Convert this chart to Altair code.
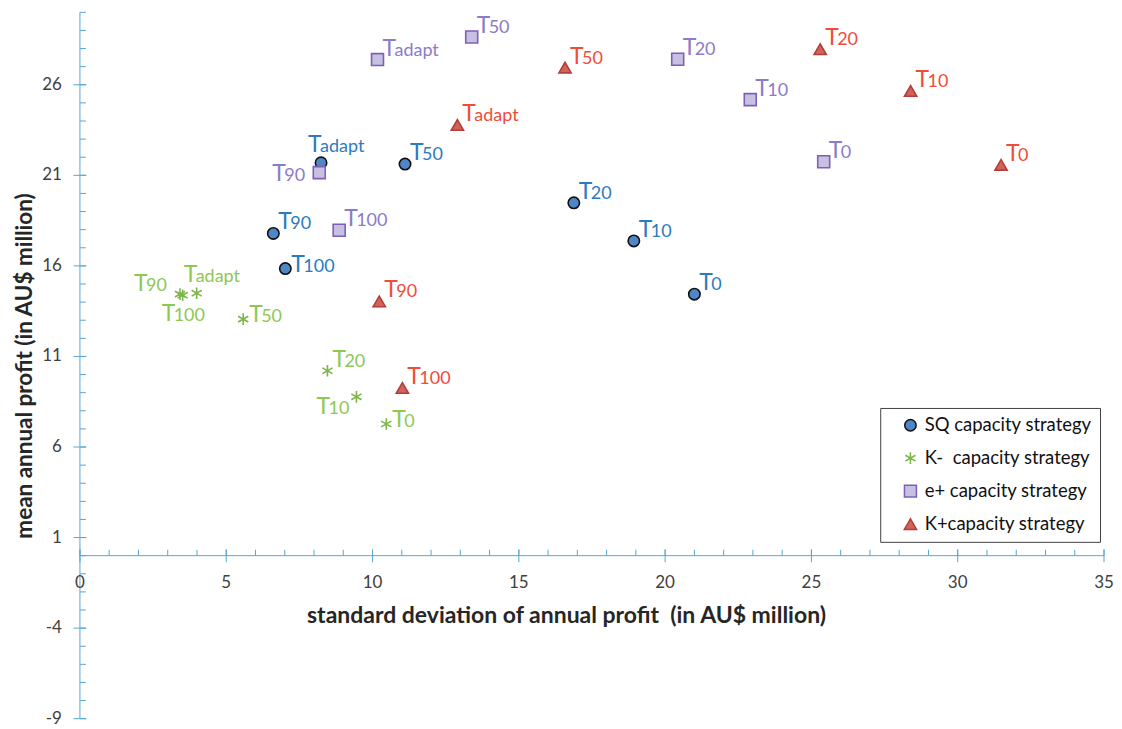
import altair as alt
import pandas as pd

# ---------------- data ----------------
strategies = ["SQ capacity strategy", "K-\u00a0 capacity strategy",
              "e+ capacity strategy", "K+capacity strategy"]

sq_label = ["Tadapt", "T50", "T90", "T100", "T20", "T10", "T0"]
sq_sd    = [8.24, 11.11, 6.61, 7.02, 16.88, 18.93, 21.00]
sq_mean  = [21.69, 21.62, 17.79, 15.85, 19.48, 17.38, 14.44]
sq_place = ["up", "ur", "ur", "r", "ur", "ur", "ur"]

km_label = ["T90", "T100", "Tadapt", "T50", "T20", "T10", "T0"]
km_sd    = [3.42, 3.51, 3.99, 5.58, 8.46, 9.45, 10.47]
km_mean  = [14.44, 14.38, 14.49, 13.06, 10.21, 8.77, 7.27]
km_place = ["ul", "d", "up", "r", "ur", "dl", "r"]

ep_label = ["Tadapt", "T50", "T20", "T90", "T100", "T10", "T0"]
ep_sd    = [10.17, 13.39, 20.43, 8.18, 8.86, 22.91, 25.42]
ep_mean  = [27.39, 28.64, 27.41, 21.15, 17.97, 25.18, 21.75]
ep_place = ["ur", "ur", "ur", "l", "ur", "ur", "ur"]

kp_label = ["Tadapt", "T50", "T90", "T100", "T20", "T10", "T0"]
kp_sd    = [12.90, 16.58, 10.23, 11.02, 25.30, 28.39, 31.48]
kp_mean  = [23.78, 26.95, 14.04, 9.26, 27.96, 25.66, 21.58]
kp_place = ["ur", "ur", "ur", "ur", "ur", "ur", "ur"]

x_major = [0, 5, 10, 15, 20, 25, 30, 35]
x_tick_labels = ["0", "5", "10", "15", "20", "25", "30", "35"]
x_minor = list(range(0, 36))
y_major = [-9, -4, 1, 6, 11, 16, 21, 26]
y_tick_labels = ["-9", "-4", "1", "6", "11", "16", "21", "26"]
y_minor = list(range(-9, 31))

x_title = "standard deviation of annual profit\u00a0 (in AU$ million)"
y_title = "mean annual profit (in AU$ million)"

# ---------------- table ----------------
rows = []
for strat, labs, sds, means, places in [
    (strategies[0], sq_label, sq_sd, sq_mean, sq_place),
    (strategies[1], km_label, km_sd, km_mean, km_place),
    (strategies[2], ep_label, ep_sd, ep_mean, ep_place),
    (strategies[3], kp_label, kp_sd, kp_mean, kp_place),
]:
    for lab, sd, mn, pl in zip(labs, sds, means, places):
        rows.append({"strategy": strat, "head": lab[0], "tail": lab[1:],
                     "sd": sd, "mean": mn, "place": pl})
df = pd.DataFrame(rows)

# ---------------- styles ----------------
FONT = "Lato"
X_DOM = [0, 35]
Y_DOM = [-9, 30]
W, H = 1025, 707
AXIS_COLOR = "#5aa6cf"
LABEL_COLOR = "#404040"
TITLE_COLOR = "#262626"
xs = alt.Scale(domain=X_DOM, nice=False, zero=False)
ys = alt.Scale(domain=Y_DOM, nice=False, zero=False)

shapes = ["circle",
          "M0,-1L0,1M-0.87,-0.5L0.87,0.5M-0.87,0.5L0.87,-0.5",
          "square", "triangle-up"]
sizes = [130, 150, 135, 160]
fills = ["#4f86c6", "#7cb648", "#c7c0e0", "#d2625c"]
strokes = ["#111111", "#7cb648", "#7d5fb8", "#b23f38"]
text_colors = ["#2b7bbf", "#8dc855", "#8a7cc8", "#f04c3a"]

# label placement offsets: (dx of "T" start, dy of baseline) in px
offsets = {
    "ur": (5, -4),
    "r": (6, 3),
    "up": (-13, -11),
    "l": (-47, 8),
    "ul": (-46, -3),
    "dl": (-40, 17),
    "d": (-21, 26),
}
TAIL_SHIFT = 12

legend = alt.Legend(
    title=None, orient="none", legendX=801, legendY=396,
    fillColor="white", strokeColor="#404040", padding=8,
    symbolOffset=13, labelOffset=5, rowPadding=14,
    labelFont=FONT, labelFontSize=18.5, labelColor="#111111",
    symbolStrokeWidth=1.5, labelLimit=400,
)

# ---------------- markers ----------------
points = alt.Chart(df).mark_point(filled=True, opacity=1, strokeWidth=1.6).encode(
    x=alt.X("sd:Q", scale=xs, axis=None),
    y=alt.Y("mean:Q", scale=ys, axis=None),
    shape=alt.Shape("strategy:N", scale=alt.Scale(domain=strategies, range=shapes), legend=legend),
    fill=alt.Fill("strategy:N", scale=alt.Scale(domain=strategies, range=fills), legend=legend),
    stroke=alt.Stroke("strategy:N", scale=alt.Scale(domain=strategies, range=strokes), legend=legend),
    size=alt.Size("strategy:N", scale=alt.Scale(domain=strategies, range=sizes), legend=legend),
)

# ---------------- axes (drawn from the tick lists) ----------------
xline = pd.DataFrame({"a": [X_DOM[0]], "b": [X_DOM[1]], "at": [0]})
yline = pd.DataFrame({"a": [Y_DOM[0]], "b": [Y_DOM[1]], "at": [0]})
x_domain = alt.Chart(xline).mark_rule(color=AXIS_COLOR, strokeWidth=1).encode(
    x=alt.X("a:Q", scale=xs, axis=None), x2="b:Q", y=alt.Y("at:Q", scale=ys, axis=None))
y_domain = alt.Chart(yline).mark_rule(color=AXIS_COLOR, strokeWidth=1).encode(
    y=alt.Y("a:Q", scale=ys, axis=None), y2="b:Q", x=alt.X("at:Q", scale=xs, axis=None))

xt = pd.DataFrame({"v": x_minor, "zero": [0] * len(x_minor)})
xt_major = pd.DataFrame({"v": x_major, "lab": x_tick_labels, "zero": [0] * len(x_major)})
yt = pd.DataFrame({"v": y_minor, "zero": [0] * len(y_minor)})
yt_major = pd.DataFrame({"v": y_major, "lab": y_tick_labels, "zero": [0] * len(y_major)})

x_minor_ticks = alt.Chart(xt).mark_tick(
    orient="vertical", size=6, thickness=1, color=AXIS_COLOR, yOffset=-3, opacity=1
).encode(x=alt.X("v:Q", scale=xs, axis=None), y=alt.Y("zero:Q", scale=ys, axis=None))
x_major_ticks = alt.Chart(xt_major).mark_tick(
    orient="vertical", size=13, thickness=1, color=AXIS_COLOR, opacity=1
).encode(x=alt.X("v:Q", scale=xs, axis=None), y=alt.Y("zero:Q", scale=ys, axis=None))
y_minor_ticks = alt.Chart(yt).mark_tick(
    orient="horizontal", size=6, thickness=1, color=AXIS_COLOR, xOffset=3, opacity=1
).encode(y=alt.Y("v:Q", scale=ys, axis=None), x=alt.X("zero:Q", scale=xs, axis=None))
y_major_ticks = alt.Chart(yt_major).mark_tick(
    orient="horizontal", size=13, thickness=1, color=AXIS_COLOR, opacity=1
).encode(y=alt.Y("v:Q", scale=ys, axis=None), x=alt.X("zero:Q", scale=xs, axis=None))

x_labels = alt.Chart(xt_major).mark_text(
    align="center", baseline="middle", dy=27, font=FONT, fontSize=17, color=LABEL_COLOR
).encode(x=alt.X("v:Q", scale=xs, axis=None), y=alt.Y("zero:Q", scale=ys, axis=None),
         text="lab:N")
y_labels = alt.Chart(yt_major).mark_text(
    align="right", baseline="middle", dx=-18, font=FONT, fontSize=17, color=LABEL_COLOR
).encode(y=alt.Y("v:Q", scale=ys, axis=None), x=alt.X("zero:Q", scale=xs, axis=None),
         text="lab:N")

x_title_mark = alt.Chart(pd.DataFrame({"t": [x_title]})).mark_text(
    align="center", baseline="middle", font=FONT, fontSize=23, fontWeight="bold",
    color=TITLE_COLOR
).encode(x=alt.value(487), y=alt.value(604), text="t:N")
y_title_mark = alt.Chart(pd.DataFrame({"t": [y_title]})).mark_text(
    align="center", baseline="middle", angle=270, font=FONT, fontSize=22.5,
    fontWeight="bold", color=TITLE_COLOR
).encode(x=alt.value(-55), y=alt.value(354), text="t:N")

# ---------------- point labels ----------------
text_layers = []
tcolor = alt.Color("strategy:N", scale=alt.Scale(domain=strategies, range=text_colors), legend=None)
for key, (dx, dy) in offsets.items():
    base = alt.Chart(df).transform_filter(alt.datum.place == key)
    head = base.mark_text(align="left", baseline="alphabetic", dx=dx, dy=dy,
                          font=FONT, fontSize=23).encode(
        x=alt.X("sd:Q", scale=xs, axis=None), y=alt.Y("mean:Q", scale=ys, axis=None),
        text="head:N", color=tcolor)
    tail = base.mark_text(align="left", baseline="alphabetic", dx=dx + TAIL_SHIFT, dy=dy,
                          font=FONT, fontSize=18).encode(
        x=alt.X("sd:Q", scale=xs, axis=None), y=alt.Y("mean:Q", scale=ys, axis=None),
        text="tail:N", color=tcolor)
    text_layers += [head, tail]

chart = alt.layer(
    x_domain, y_domain, x_minor_ticks, y_minor_ticks, x_major_ticks, y_major_ticks,
    x_labels, y_labels, x_title_mark, y_title_mark, points, *text_layers
).properties(
    width=W, height=H,
    autosize=alt.AutoSizeParams(type="none"),
    padding={"left": 72, "top": 4, "right": 10, "bottom": 10},
).configure(font=FONT).configure_view(stroke=None)

chart.save("out.html", embed_options={"renderer": "svg", "actions": False})
